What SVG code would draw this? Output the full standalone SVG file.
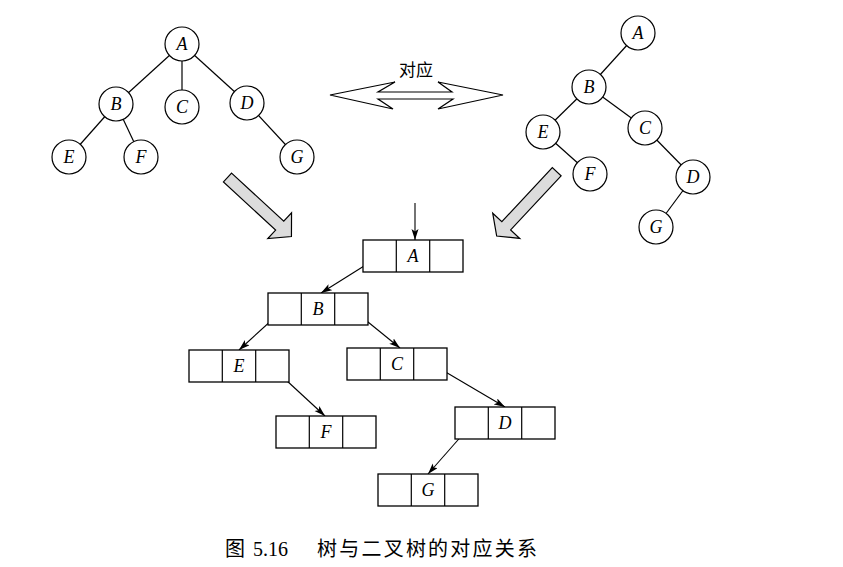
<svg xmlns="http://www.w3.org/2000/svg" width="843" height="567" viewBox="0 0 843 567">
<style>
  .edge{stroke:#000;stroke-width:1.2;fill:none}
  .circ{fill:#fff;stroke:#000;stroke-width:1.2}
  .lbl{font-family:"Liberation Serif",serif;font-style:italic;font-size:18px;text-anchor:middle;fill:#000}
  .box{fill:#fff;stroke:#000;stroke-width:1.3}
  .ptr{stroke:#000;stroke-width:1.1;fill:none;marker-end:url(#ah)}
  .big{fill:#dcdcdc;stroke:#000;stroke-width:1.2;stroke-linejoin:miter}
  .cjk{font-family:"Noto Sans CJK SC",sans-serif;fill:#000}
</style>
<defs>
  <marker id="ah" markerUnits="userSpaceOnUse" markerWidth="12" markerHeight="8" refX="11" refY="3.5" orient="auto">
    <path d="M0,0 L11,3.5 L0,7 L2.5,3.5 z" fill="#000"/>
  </marker>
</defs>
<rect width="843" height="567" fill="#fff"/>

<!-- connectors -->
<g id="connectors">
  <!-- left tree -->
  <line class="edge" x1="182" y1="44" x2="116" y2="104"/>
  <line class="edge" x1="182" y1="44" x2="182" y2="107"/>
  <line class="edge" x1="182" y1="44" x2="247" y2="103"/>
  <line class="edge" x1="116" y1="104" x2="69" y2="157"/>
  <line class="edge" x1="116" y1="104" x2="141" y2="157"/>
  <line class="edge" x1="247" y1="103" x2="297" y2="157"/>
  <!-- right tree -->
  <line class="edge" x1="638" y1="33" x2="589" y2="87"/>
  <line class="edge" x1="589" y1="87" x2="543" y2="132"/>
  <line class="edge" x1="589" y1="87" x2="645" y2="128"/>
  <line class="edge" x1="543" y1="132" x2="590" y2="174"/>
  <line class="edge" x1="645" y1="128" x2="693" y2="177"/>
  <line class="edge" x1="693" y1="177" x2="656" y2="227"/>
  <!-- binary linked nodes -->
  <line class="ptr" x1="415" y1="203" x2="415" y2="240"/>
  <line class="ptr" x1="380" y1="256" x2="321" y2="293"/>
  <line class="ptr" x1="284" y1="309" x2="239" y2="350"/>
  <line class="ptr" x1="352" y1="309" x2="400" y2="348"/>
  <line class="ptr" x1="273" y1="368" x2="325" y2="416"/>
  <line class="ptr" x1="432" y1="364" x2="505" y2="407"/>
  <line class="ptr" x1="472" y1="424" x2="428" y2="474"/>
</g>

<!-- left tree nodes -->
<g id="t1A"><circle class="circ" cx="182" cy="44" r="17"/><text class="lbl" x="182" y="50">A</text></g>
<g id="t1B"><circle class="circ" cx="116" cy="104" r="17"/><text class="lbl" x="116" y="110">B</text></g>
<g id="t1C"><circle class="circ" cx="182" cy="107" r="17"/><text class="lbl" x="182" y="113">C</text></g>
<g id="t1D"><circle class="circ" cx="247" cy="103" r="17"/><text class="lbl" x="247" y="109">D</text></g>
<g id="t1E"><circle class="circ" cx="69" cy="157" r="17"/><text class="lbl" x="69" y="163">E</text></g>
<g id="t1F"><circle class="circ" cx="141" cy="157" r="17"/><text class="lbl" x="141" y="163">F</text></g>
<g id="t1G"><circle class="circ" cx="297" cy="157" r="17"/><text class="lbl" x="297" y="163">G</text></g>

<!-- right tree nodes -->
<g id="t2A"><circle class="circ" cx="638" cy="33" r="17"/><text class="lbl" x="638" y="39">A</text></g>
<g id="t2B"><circle class="circ" cx="589" cy="87" r="17"/><text class="lbl" x="589" y="93">B</text></g>
<g id="t2E"><circle class="circ" cx="543" cy="132" r="17"/><text class="lbl" x="543" y="138">E</text></g>
<g id="t2C"><circle class="circ" cx="645" cy="128" r="17"/><text class="lbl" x="645" y="134">C</text></g>
<g id="t2F"><circle class="circ" cx="590" cy="174" r="17"/><text class="lbl" x="590" y="180">F</text></g>
<g id="t2D"><circle class="circ" cx="693" cy="177" r="17"/><text class="lbl" x="693" y="183">D</text></g>
<g id="t2G"><circle class="circ" cx="656" cy="227" r="17"/><text class="lbl" x="656" y="233">G</text></g>

<!-- correspondence double arrow -->
<g id="correspond">
  <polygon class="edge" points="330,95 395,82 378,92 452,92 438,82 503,95 438,109 453,99 378,99 393,109"/>
  <text class="cjk" x="416" y="76" font-size="17" text-anchor="middle">对应</text>
</g>

<!-- big shaded arrows -->
<g id="bigArrowLeft" transform="translate(227.5,177.5) rotate(42.7)">
  <polygon class="big" points="0,-6 71,-6 71,-17.5 87,0 71,17.5 71,6 0,6"/>
</g>
<g id="bigArrowRight" transform="translate(556.7,171.7) rotate(133)">
  <polygon class="big" points="0,-6 74,-6 74,-18.5 88,0 74,18.5 74,6 0,6"/>
</g>

<!-- binary tree linked nodes -->
<g id="bA"><rect class="box" x="363" y="240" width="100" height="32"/><line class="edge" x1="396.3" y1="240" x2="396.3" y2="272"/><line class="edge" x1="429.7" y1="240" x2="429.7" y2="272"/><text class="lbl" x="413" y="262">A</text></g>
<g id="bB"><rect class="box" x="268" y="293" width="100" height="32"/><line class="edge" x1="301.3" y1="293" x2="301.3" y2="325"/><line class="edge" x1="334.7" y1="293" x2="334.7" y2="325"/><text class="lbl" x="318" y="315">B</text></g>
<g id="bE"><rect class="box" x="189" y="350" width="100" height="32"/><line class="edge" x1="222.3" y1="350" x2="222.3" y2="382"/><line class="edge" x1="255.7" y1="350" x2="255.7" y2="382"/><text class="lbl" x="239" y="372">E</text></g>
<g id="bC"><rect class="box" x="347" y="348" width="100" height="32"/><line class="edge" x1="380.3" y1="348" x2="380.3" y2="380"/><line class="edge" x1="413.7" y1="348" x2="413.7" y2="380"/><text class="lbl" x="397" y="370">C</text></g>
<g id="bF"><rect class="box" x="276" y="416" width="100" height="32"/><line class="edge" x1="309.3" y1="416" x2="309.3" y2="448"/><line class="edge" x1="342.7" y1="416" x2="342.7" y2="448"/><text class="lbl" x="326" y="438">F</text></g>
<g id="bD"><rect class="box" x="455" y="407" width="100" height="32"/><line class="edge" x1="488.3" y1="407" x2="488.3" y2="439"/><line class="edge" x1="521.7" y1="407" x2="521.7" y2="439"/><text class="lbl" x="505" y="429">D</text></g>
<g id="bG"><rect class="box" x="378" y="474" width="100" height="32"/><line class="edge" x1="411.3" y1="474" x2="411.3" y2="506"/><line class="edge" x1="444.7" y1="474" x2="444.7" y2="506"/><text class="lbl" x="428" y="496">G</text></g>

<!-- caption -->
<g id="caption">
  <text class="cjk" x="225" y="556" font-size="20">图</text>
  <text x="253" y="556" font-size="20" font-family="Liberation Serif, serif">5.16</text>
  <text class="cjk" x="317" y="556" font-size="20" textLength="220" lengthAdjust="spacing">树与二叉树的对应关系</text>
</g>
</svg>
